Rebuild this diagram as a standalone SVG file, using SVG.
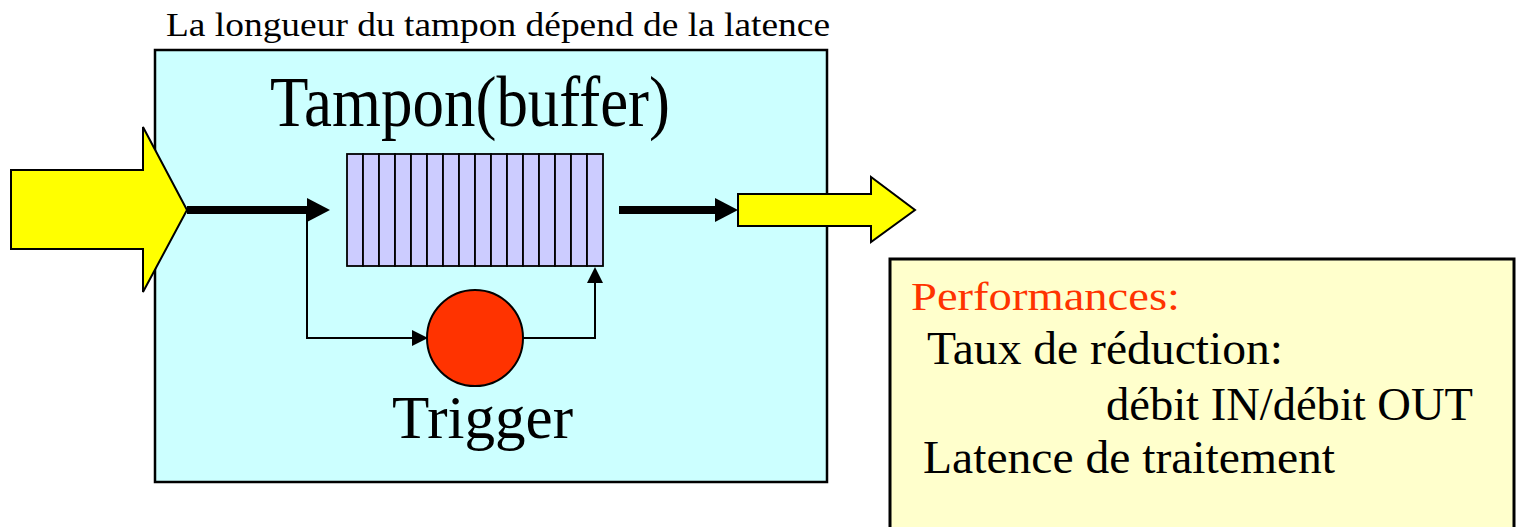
<svg xmlns="http://www.w3.org/2000/svg" width="1517" height="527" viewBox="0 0 1517 527">
<style>
text{font-family:"Liberation Serif","Times New Roman",serif;fill:#000}
.box{stroke:#000;stroke-width:2.5}
.cell{fill:#CCCCFF;stroke:#000;stroke-width:1.8}
.big{fill:#FFFF00;stroke:#000;stroke-width:2;stroke-linejoin:miter}
.thick{stroke:#000;stroke-width:8;fill:none}
.thin{stroke:#000;stroke-width:2;fill:none}
</style>
<defs>
<marker id="hThick" markerUnits="userSpaceOnUse" markerWidth="23" markerHeight="24" refX="0" refY="12" orient="auto" viewBox="0 0 23 24">
<path d="M0,0 L23,12 L0,24 z" fill="#000"/>
</marker>
<marker id="hThin" markerUnits="userSpaceOnUse" markerWidth="16" markerHeight="16" refX="0" refY="8" orient="auto" viewBox="0 0 16 16">
<path d="M0,0 L16,8 L0,16 z" fill="#000"/>
</marker>
</defs>
<text id="caption" x="166" y="36" font-size="34" textLength="664" lengthAdjust="spacingAndGlyphs">La longueur du tampon dépend de la latence</text>
<g id="system">
<rect class="box" x="155" y="50" width="672" height="432" fill="#CCFFFF"/>
<text x="270" y="126" font-size="72" textLength="400" lengthAdjust="spacingAndGlyphs">Tampon(buffer)</text>
</g>
<g id="buffer">
<rect class="cell" x="347" y="154" width="16" height="112"/>
<rect class="cell" x="363" y="154" width="16" height="112"/>
<rect class="cell" x="379" y="154" width="16" height="112"/>
<rect class="cell" x="395" y="154" width="16" height="112"/>
<rect class="cell" x="411" y="154" width="16" height="112"/>
<rect class="cell" x="427" y="154" width="16" height="112"/>
<rect class="cell" x="443" y="154" width="16" height="112"/>
<rect class="cell" x="459" y="154" width="16" height="112"/>
<rect class="cell" x="475" y="154" width="16" height="112"/>
<rect class="cell" x="491" y="154" width="16" height="112"/>
<rect class="cell" x="507" y="154" width="16" height="112"/>
<rect class="cell" x="523" y="154" width="16" height="112"/>
<rect class="cell" x="539" y="154" width="16" height="112"/>
<rect class="cell" x="555" y="154" width="16" height="112"/>
<rect class="cell" x="571" y="154" width="16" height="112"/>
<rect class="cell" x="587" y="154" width="16" height="112"/>
</g>
<g id="trigger">
<circle cx="475" cy="338" r="48" fill="#FF3300" stroke="#000" stroke-width="2"/>
<text x="392" y="438" font-size="62" textLength="181" lengthAdjust="spacingAndGlyphs">Trigger</text>
</g>
<g id="connectors">
<line class="thick" x1="187" y1="210" x2="307" y2="210" marker-end="url(#hThick)"/>
<line class="thick" x1="619" y1="210" x2="715" y2="210" marker-end="url(#hThick)"/>
<path class="thin" d="M307,210 L307,338 L412,338" marker-end="url(#hThin)"/>
<path class="thin" d="M523,338 L595,338 L595,283" marker-end="url(#hThin)"/>
</g>
<g id="input">
<polygon class="big" points="11,170 143,170 143,127 187,210 143,292 143,249 11,249"/>
</g>
<g id="output">
<polygon class="big" points="738,194 871,194 871,177 915,210 871,242 871,226 738,226"/>
</g>
<g id="performances">
<rect x="890" y="259" width="624" height="290" fill="#FFFFCC" stroke="#000" stroke-width="3"/>
<text x="911" y="310" font-size="40" fill="#FF3300" style="fill:#FF3300" textLength="269" lengthAdjust="spacingAndGlyphs">Performances:</text>
<text x="927" y="364" font-size="46" textLength="356" lengthAdjust="spacingAndGlyphs">Taux de réduction:</text>
<text x="1106" y="420" font-size="47" textLength="367" lengthAdjust="spacingAndGlyphs">débit IN/débit OUT</text>
<text x="923" y="473" font-size="46" textLength="412" lengthAdjust="spacingAndGlyphs">Latence de traitement</text>
</g>
</svg>
